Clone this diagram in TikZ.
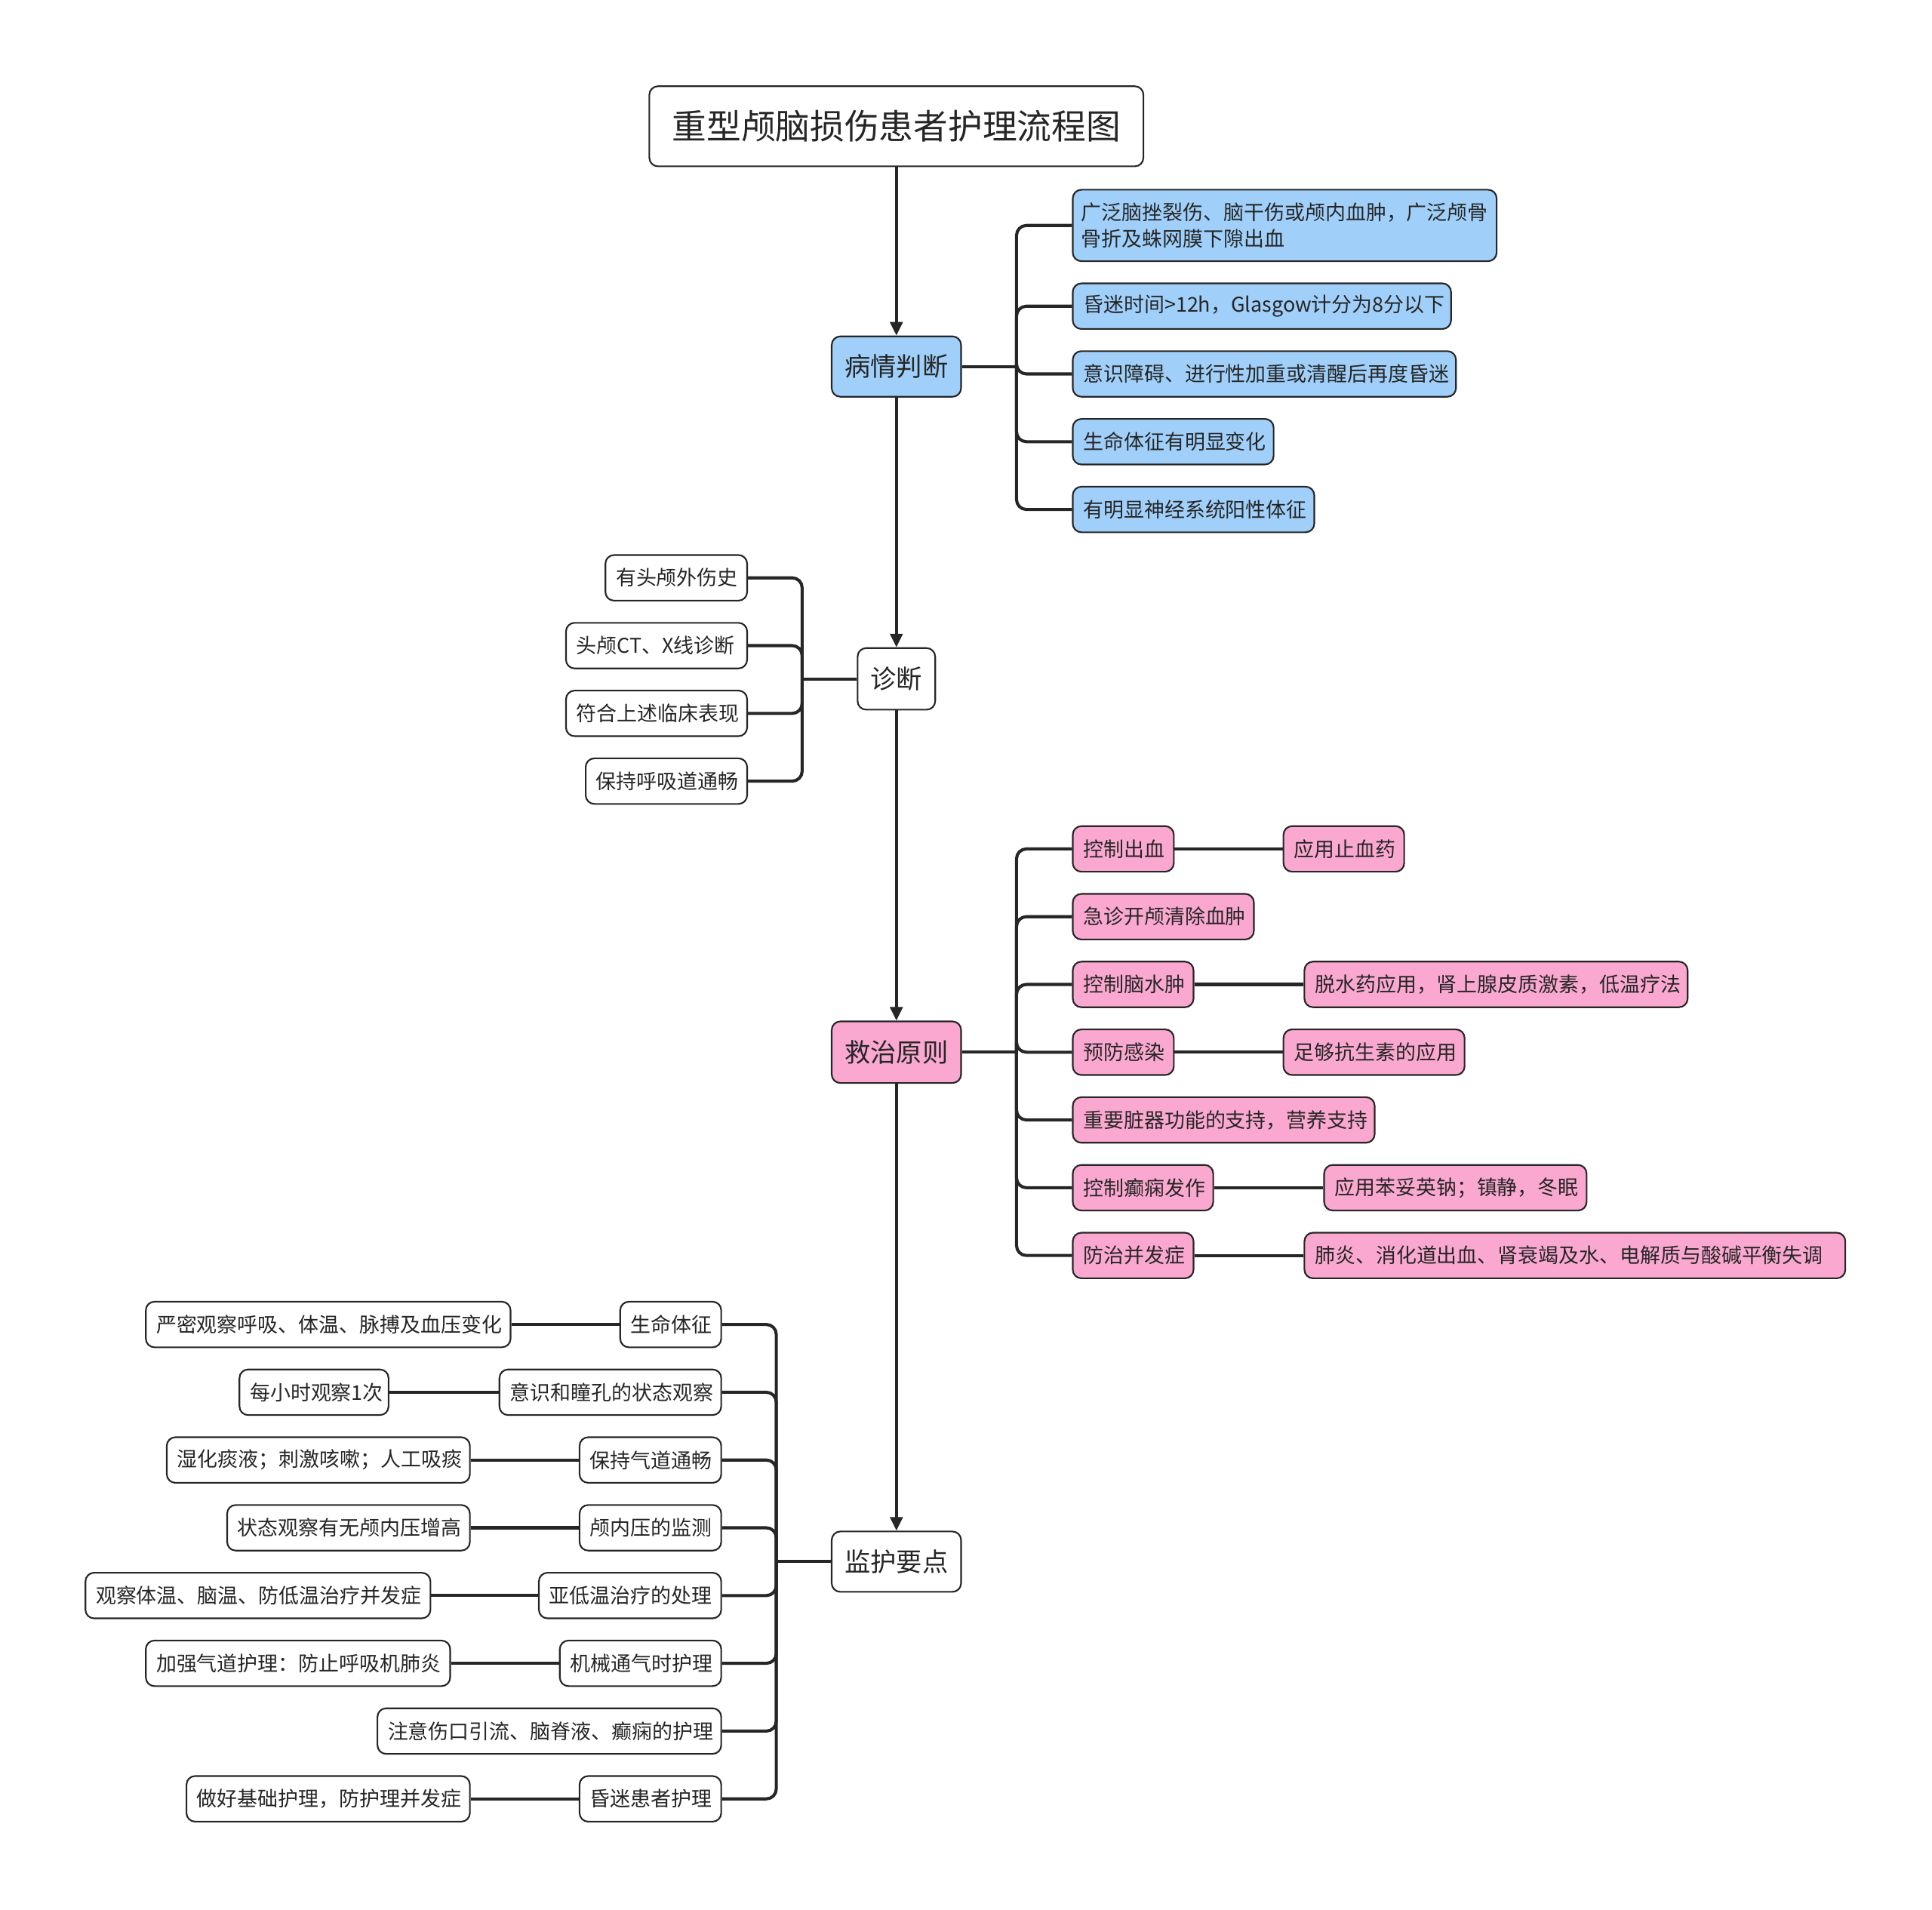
\documentclass[tikz,border=0pt]{standalone}
\usepackage{fontspec}
\setmainfont{Noto Sans CJK SC}
\usetikzlibrary{arrows.meta}
\definecolor{bluefill}{HTML}{A0D0FA}
\definecolor{pinkfill}{HTML}{FAA8D0}
\definecolor{inkc}{HTML}{262626}
\begin{document}
\begin{tikzpicture}[x=1pt,y=-1pt,
  box/.style={draw=inkc, line width=1.3pt, rounded corners=7pt, inner xsep=8.5pt, inner ysep=0pt,
    minimum height=37pt, font=\fontsize{16.5}{22}\selectfont, text=inkc, align=left},
  bw/.style={text width=#1},
  bluebox/.style={box, fill=bluefill},
  pinkbox/.style={box, fill=pinkfill},
  whitebox/.style={box, fill=white},
  mainbox/.style={draw=inkc, line width=1.3pt, rounded corners=7pt, inner sep=0pt, text=inkc,
    font=\fontsize{21}{25}\selectfont, minimum width=105pt, minimum height=49pt},
  link/.style={draw=inkc, line width=2.5pt, rounded corners=8pt},
  arr/.style={draw=inkc, line width=2.5pt, -{Triangle[length=11pt,width=10pt]}}
]
\useasboundingbox (0,0) rectangle (1568,1550.2);
\fill[white] (0,0) rectangle (1568,1550.2);

% title and main nodes
\node[mainbox, fill=white, font=\fontsize{28}{32}\selectfont, minimum width=401pt, minimum height=65pt] (title) at (727.5,102.5) {重型颅脑损伤患者护理流程图};
\node[mainbox, fill=bluefill] (bq) at (727.5,297.5) {病情判断};
\node[mainbox, fill=white, minimum width=63pt, minimum height=50pt] (dg) at (727.5,551) {诊断};
\node[mainbox, fill=pinkfill, minimum height=50pt] (jz) at (727.5,854) {救治原则};
\node[mainbox, fill=white] (jh) at (727.5,1267.5) {监护要点};

\draw[arr] (title.south) -- (bq.north);
\draw[arr] (bq.south) -- (dg.north);
\draw[arr] (dg.south) -- (jz.north);
\draw[arr] (jz.south) -- (jh.north);

% 病情判断 children
\node[bluebox, anchor=west, inner xsep=7pt, bw=330pt, minimum height=58pt] (b1) at (870,183) {广泛脑挫裂伤、脑干伤或颅内血肿，广泛颅骨\\骨折及蛛网膜下隙出血};
\node[bluebox, anchor=west, bw=290pt] (b2) at (870,248.5) {昏迷时间>12h，Glasgow计分为8分以下};
\node[bluebox, anchor=west, bw=294pt] (b3) at (870,303.5) {意识障碍、进行性加重或清醒后再度昏迷};
\node[bluebox, anchor=west, bw=146pt] (b4) at (870,358.5) {生命体征有明显变化};
\node[bluebox, anchor=west, bw=179pt] (b5) at (870,413.5) {有明显神经系统阳性体征};
\coordinate (bj) at (825,297.5);
\draw[link] (bq.east) -- (bj);
\foreach \n in {b1,b2,b3,b4,b5} \draw[link] (bj) |- (\n.west);

% 诊断 children
\node[whitebox, anchor=east, bw=98pt] (d1) at (607,469) {有头颅外伤史};
\node[whitebox, anchor=east, bw=130pt] (d2) at (607,524) {头颅CT、X线诊断};
\node[whitebox, anchor=east, bw=130pt] (d3) at (607,579) {符合上述临床表现};
\node[whitebox, anchor=east, bw=114pt] (d4) at (607,634) {保持呼吸道通畅};
\coordinate (dj) at (651,551);
\draw[link] (dg.west) -- (dj);
\foreach \n in {d1,d2,d3,d4} \draw[link] (dj) |- (\n.east);

% 救治原则 children
\node[pinkbox, anchor=west, bw=65pt] (p1) at (870,689) {控制出血};
\node[pinkbox, anchor=west, bw=81pt] (p1b) at (1041,689) {应用止血药};
\node[pinkbox, anchor=west, bw=130pt] (p2) at (870,744) {急诊开颅清除血肿};
\node[pinkbox, anchor=west, bw=81pt] (p3) at (870,799) {控制脑水肿};
\node[pinkbox, anchor=west, bw=294pt] (p3b) at (1058,799) {脱水药应用，肾上腺皮质激素，低温疗法};
\node[pinkbox, anchor=west, bw=65pt] (p4) at (870,854) {预防感染};
\node[pinkbox, anchor=west, bw=130pt] (p4b) at (1041,854) {足够抗生素的应用};
\node[pinkbox, anchor=west, bw=228pt] (p5) at (870,909) {重要脏器功能的支持，营养支持};
\node[pinkbox, anchor=west, bw=97pt] (p6) at (870,964) {控制癫痫发作};
\node[pinkbox, anchor=west, bw=196pt] (p6b) at (1074,964) {应用苯妥英钠；镇静，冬眠};
\node[pinkbox, anchor=west, bw=81pt] (p7) at (870,1019) {防治并发症};
\node[pinkbox, anchor=west, bw=422pt] (p7b) at (1058,1019) {肺炎、消化道出血、肾衰竭及水、电解质与酸碱平衡失调};
\coordinate (pj) at (825,854);
\draw[link] (jz.east) -- (pj);
\foreach \n in {p1,p2,p3,p4,p5,p6,p7} \draw[link] (pj) |- (\n.west);
\foreach \a/\b in {p1/p1b,p3/p3b,p4/p4b,p6/p6b,p7/p7b} \draw[link] (\a.east) -- (\b.west);

% 监护要点 children
\node[whitebox, anchor=east, bw=65pt] (m1) at (586,1075) {生命体征};
\node[whitebox, anchor=east, bw=279pt] (m1b) at (415,1075) {严密观察呼吸、体温、脉搏及血压变化};
\node[whitebox, anchor=east, bw=163pt] (m2) at (586,1130) {意识和瞳孔的状态观察};
\node[whitebox, anchor=east, bw=104pt] (m2b) at (316,1130) {每小时观察1次};
\node[whitebox, anchor=east, bw=98pt] (m3) at (586,1185) {保持气道通畅};
\node[whitebox, anchor=east, bw=229pt] (m3b) at (382,1185) {湿化痰液；刺激咳嗽；人工吸痰};
\node[whitebox, anchor=east, bw=98pt] (m4) at (586,1240) {颅内压的监测};
\node[whitebox, anchor=east, bw=180pt] (m4b) at (382,1240) {状态观察有无颅内压增高};
\node[whitebox, anchor=east, bw=131pt] (m5) at (586,1295) {亚低温治疗的处理};
\node[whitebox, anchor=east, bw=263pt] (m5b) at (350,1295) {观察体温、脑温、防低温治疗并发症};
\node[whitebox, anchor=east, bw=114pt] (m6) at (586,1350) {机械通气时护理};
\node[whitebox, anchor=east, bw=230pt] (m6b) at (366,1350) {加强气道护理：防止呼吸机肺炎};
\node[whitebox, anchor=east, bw=262pt] (m7) at (586,1405) {注意伤口引流、脑脊液、癫痫的护理};
\node[whitebox, anchor=east, bw=98pt] (m8) at (586,1460) {昏迷患者护理};
\node[whitebox, anchor=east, bw=213pt] (m8b) at (382,1460) {做好基础护理，防护理并发症};
\coordinate (mj) at (630,1267.5);
\draw[link] (jh.west) -- (mj);
\foreach \n in {m1,m2,m3,m4,m5,m6,m7,m8} \draw[link] (mj) |- (\n.east);
\foreach \a/\b in {m1/m1b,m2/m2b,m3/m3b,m4/m4b,m5/m5b,m6/m6b,m8/m8b} \draw[link] (\a.west) -- (\b.east);
\end{tikzpicture}
\end{document}
